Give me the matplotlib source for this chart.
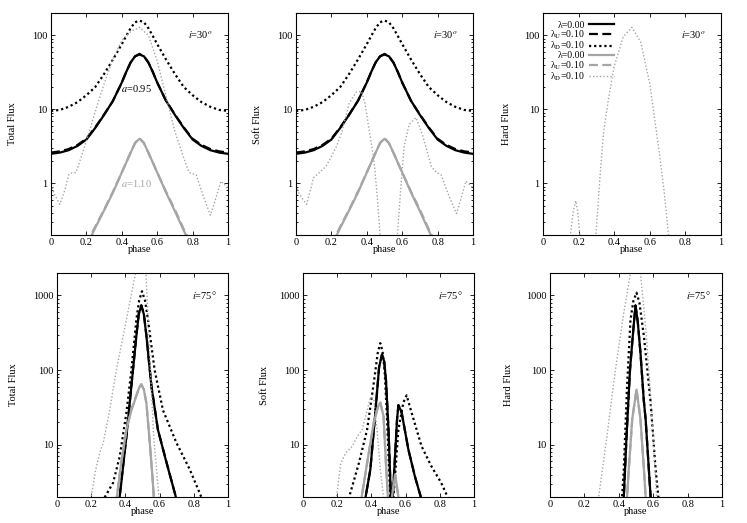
import matplotlib
matplotlib.use("Agg")
import matplotlib.pyplot as plt
from matplotlib.ticker import FixedLocator, LogLocator, NullFormatter, FuncFormatter
from matplotlib.lines import Line2D

plt.rcParams["font.family"] = "serif"
plt.rcParams["font.serif"] = ["Liberation Serif", "DejaVu Serif"]
plt.rcParams["mathtext.fontset"] = "stix"
plt.rcParams["font.size"] = 7.5

# ---- i=30 deg, total & soft flux (black curves a=0.95 identical in both) ----
x30 = [0, 0.05, 0.1, 0.15, 0.2, 0.25, 0.3, 0.35, 0.4, 0.425, 0.45, 0.475, 0.5,
       0.525, 0.55, 0.575, 0.6, 0.65, 0.7, 0.75, 0.8, 0.85, 0.9, 0.95, 1.0]
tot30_solid = [2.5, 2.6, 2.8, 3.2, 3.9, 5.6, 8.4, 13, 23, 32, 43, 52, 55,
               52, 43, 32, 23, 13, 8.4, 5.6, 3.9, 3.2, 2.8, 2.6, 2.5]
tot30_dash = [2.6, 2.7, 2.9, 3.3, 4.0, 5.7, 8.5, 13, 23, 32, 43, 52, 56,
              52, 43, 32, 23, 13, 8.5, 5.7, 4.0, 3.3, 2.9, 2.7, 2.6]
tot30_dot = [9.5, 9.8, 10.8, 12.5, 15.5, 20, 30, 47, 76, 98, 125, 150, 158,
             150, 125, 98, 76, 47, 30, 20, 15.5, 12.5, 10.8, 9.8, 9.5]

# a=1.10 (grey) curves
x30g = [0.2, 0.25, 0.3, 0.35, 0.4, 0.45, 0.475, 0.5, 0.525, 0.55, 0.6, 0.65, 0.7, 0.75, 0.8]
tot30g_solid = [0.14, 0.25, 0.43, 0.75, 1.4, 2.6, 3.5, 4.0, 3.5, 2.6, 1.4, 0.75, 0.42, 0.23, 0.13]
tot30g_dash = [0.15, 0.26, 0.44, 0.77, 1.4, 2.6, 3.5, 4.1, 3.5, 2.6, 1.4, 0.77, 0.44, 0.24, 0.14]

x30g_dot_tot = [0, 0.023, 0.05, 0.08, 0.1, 0.12, 0.14, 0.16, 0.2, 0.25, 0.3, 0.35, 0.4,
                0.45, 0.5, 0.55, 0.6, 0.65, 0.7, 0.75, 0.78, 0.82, 0.86, 0.9, 0.93, 0.96, 1.0]
tot30g_dot = [0.97, 0.68, 0.52, 0.83, 1.3, 1.39, 1.39, 1.9, 3.7, 9.3, 22, 48, 85,
              112, 128, 100, 45, 15, 5.0, 2.2, 1.4, 1.3, 0.68, 0.37, 0.61, 1.07, 0.87]

x30g_dot_soft = [0, 0.02, 0.06, 0.1, 0.13, 0.17, 0.2, 0.23, 0.26, 0.3, 0.34, 0.37, 0.39,
                 0.41, 0.44, 0.46, 0.475, 0.49, 0.52, 0.56, 0.573, 0.593, 0.611, 0.64,
                 0.678, 0.716, 0.764, 0.793, 0.82, 0.87, 0.907, 0.93, 0.96, 1.0]
soft30g_dot = [0.92, 0.7, 0.52, 1.2, 1.38, 1.7, 2.3, 3.2, 5.0, 12, 17, 17.5, 12,
               5.9, 2.1, 0.62, 0.2, 0.1, 0.05, 0.1, 0.2, 0.93, 3.2, 6.3,
               7.7, 4.4, 1.7, 1.4, 1.3, 0.62, 0.39, 0.6, 1.07, 0.87]

x30g_dot_hard = [0.14, 0.154, 0.17, 0.184, 0.195, 0.207, 0.22, 0.25, 0.28, 0.297, 0.32,
                 0.34, 0.37, 0.4, 0.45, 0.5, 0.55, 0.6, 0.65, 0.68, 0.705, 0.72]
hard30g_dot = [0.08, 0.2, 0.42, 0.58, 0.42, 0.2, 0.08, 0.05, 0.08, 0.2, 1.2,
               4.8, 15, 38, 95, 128, 80, 22, 3.0, 0.8, 0.2, 0.08]

# ---- i=75 deg, total flux ----
x75_tot_solid = [0.36, 0.376, 0.406, 0.435, 0.464, 0.478, 0.493, 0.508, 0.523, 0.552, 0.59, 0.64, 0.688, 0.70]
tot75_solid = [1.5, 3.1, 13, 61, 285, 560, 735, 560, 285, 61, 16, 5.8, 2.3, 1.8]
tot75_dash = [1.5, 3.2, 13, 62, 290, 565, 740, 565, 290, 62, 16, 5.9, 2.3, 1.8]
x75_tot_dot = [0.27, 0.28, 0.328, 0.367, 0.406, 0.435, 0.464, 0.48, 0.497, 0.515,
               0.532, 0.571, 0.62, 0.698, 0.776, 0.844, 0.86]
tot75_dot = [1.7, 2.0, 3.1, 7, 27, 100, 475, 850, 1140, 850, 475, 100, 29, 10.7, 4.7, 2.0, 1.7]
x75_tot_g = [0.34, 0.35, 0.376, 0.406, 0.435, 0.464, 0.48, 0.493, 0.508, 0.523, 0.542, 0.558, 0.566, 0.575]
tot75g_solid = [1.6, 2.0, 5.8, 16, 29, 45, 58, 65, 55, 36, 11, 3.8, 2.0, 1.5]
tot75g_dash = [1.6, 2.0, 5.9, 16, 30, 46, 58, 64, 55, 36, 11, 3.8, 2.0, 1.5]
x75_tot_gdot = [0.19, 0.2, 0.225, 0.25, 0.27, 0.308, 0.347, 0.406, 0.444, 0.47, 0.49,
                0.519, 0.542, 0.565, 0.596, 0.61]
tot75g_dot = [1.5, 2.0, 4.5, 7.8, 10.5, 29, 100, 475, 1330, 2600, 3500,
              2200, 170, 13, 2.0, 1.5]

# ---- i=75 deg, soft flux ----
x75_soft_solid = [0.355, 0.366, 0.394, 0.423, 0.445, 0.462, 0.475, 0.485, 0.50, 0.514,
                  0.518, 0.525, 0.539, 0.55, 0.558, 0.577, 0.616, 0.654, 0.689, 0.70]
soft75_solid = [1.5, 2.0, 4.7, 27, 110, 162, 130, 75, 16, 2.0,
                1.0, 2.0, 7.6, 22, 34, 27, 8.7, 3.8, 2.0, 1.6]
soft75_dash = soft75_solid
x75_soft_dot = [0.26, 0.27, 0.327, 0.375, 0.414, 0.437, 0.452, 0.465, 0.477, 0.49, 0.51,
                0.52, 0.529, 0.558, 0.587, 0.606, 0.635, 0.693, 0.75, 0.808, 0.846, 0.86]
soft75_dot = [1.6, 2.0, 5.7, 16, 68, 170, 230, 180, 100, 27, 2.0,
              1.0, 2.0, 16, 37, 46, 27, 9.6, 5.2, 3.1, 2.0, 1.6]
x75_soft_g = [0.335, 0.343, 0.375, 0.414, 0.44, 0.452, 0.471, 0.485, 0.496, 0.505,
              0.52, 0.539, 0.558, 0.57]
soft75g_solid = [1.5, 2.0, 5.7, 20, 33, 37, 24, 5.7, 2.0, 1.0, 2.0, 4.0, 2.0, 1.5]
soft75g_dash = soft75g_solid
x75_soft_gdot = [0.185, 0.196, 0.221, 0.25, 0.289, 0.318, 0.346, 0.366, 0.394, 0.414,
                 0.433, 0.452, 0.471, 0.48]
soft75g_dot = [1.5, 2.0, 5.7, 7.8, 9.6, 13, 16, 24, 43, 41, 16, 4.7, 2.0, 1.5]

# ---- i=75 deg, hard flux ----
x75_hard_solid = [0.42, 0.429, 0.445, 0.465, 0.482, 0.497, 0.51, 0.526, 0.545, 0.556, 0.585, 0.595]
hard75_solid = [1.5, 2.0, 13, 100, 300, 735, 450, 170, 40, 22, 2.0, 1.5]
hard75_dash = hard75_solid
x75_hard_dot = [0.41, 0.419, 0.429, 0.448, 0.468, 0.485, 0.503, 0.52, 0.546, 0.585, 0.614, 0.63, 0.64]
hard75_dot = [1.5, 2.0, 4.7, 61, 475, 850, 1090, 800, 285, 37, 4.7, 2.0, 1.5]
x75_hard_g = [0.44, 0.448, 0.458, 0.478, 0.503, 0.526, 0.546, 0.556, 0.565]
hard75g_solid = [1.5, 2.0, 4.7, 22, 55, 22, 4.7, 2.0, 1.5]
hard75g_dash = hard75g_solid
x75_hard_gdot = [0.27, 0.283, 0.331, 0.38, 0.429, 0.468, 0.5, 0.526, 0.56, 0.59, 0.62, 0.63]
hard75g_dot = [1.5, 2.0, 13, 100, 585, 2000, 3000, 2000, 300, 30, 2.0, 1.5]

xticks = [0, 0.2, 0.4, 0.6, 0.8, 1]
GREY = "#a5a5a5"
st = {
    "bs": dict(color="k", lw=1.6),
    "bd": dict(color="k", lw=1.6, dashes=(4, 2)),
    "bo": dict(color="k", lw=1.6, dashes=(1, 1.3)),
    "gs": dict(color=GREY, lw=1.6),
    "gd": dict(color=GREY, lw=1.6, dashes=(4, 2)),
    "go": dict(color=GREY, lw=1.0, dashes=(1, 1.5)),
}

fig = plt.figure(figsize=(7.47, 5.23), dpi=100)


def make_ax(l, r, t, b):
    return fig.add_axes([l / 747, 1 - b / 523, (r - l) / 747, (b - t) / 523])


def style(ax, ylim, ylab, labx, incl):
    ax.set_yscale("log")
    ax.set_xlim(0, 1)
    ax.set_ylim(*ylim)
    ax.xaxis.set_major_locator(FixedLocator(xticks))
    ax.xaxis.set_major_formatter(FuncFormatter(lambda v, p: "%g" % v))
    ax.yaxis.set_major_locator(LogLocator(base=10))
    ax.yaxis.set_minor_locator(LogLocator(base=10, subs=range(2, 10)))
    ax.yaxis.set_major_formatter(FuncFormatter(lambda v, p: "%g" % v))
    ax.yaxis.set_minor_formatter(NullFormatter())
    ax.tick_params(which="both", direction="in", top=True, right=True, width=0.6, pad=2.5)
    ax.tick_params(which="major", length=3)
    ax.tick_params(which="minor", length=1.5)
    for s in ax.spines.values():
        s.set_linewidth(0.8)
    ax.set_xlabel("phase", labelpad=-1.5)
    ax.set_ylabel(ylab)
    ax.yaxis.set_label_coords(labx, 0.5)
    tx = 0.915 if incl == 30 else 0.935
    lab = r"$i$=30$^o$" if incl == 30 else r"$i$=75°"
    ax.text(tx, 0.90, lab, transform=ax.transAxes, ha="right", va="center")


# top row
ax1 = make_ax(51, 228, 13, 235)
ax1.plot(x30, tot30_solid, **st["bs"])
ax1.plot(x30, tot30_dash, **st["bd"])
ax1.plot(x30, tot30_dot, **st["bo"])
ax1.plot(x30g, tot30g_solid, **st["gs"])
ax1.plot(x30g, tot30g_dash, **st["gd"])
ax1.plot(x30g_dot_tot, tot30g_dot, **st["go"])
style(ax1, (0.2, 200), "Total Flux", -0.19, 30)
ax1.text(0.395, 19, r"$a$=0.95", ha="left", va="center")
ax1.text(0.395, 1.0, r"$a$=1.10", ha="left", va="center", color=GREY)

ax2 = make_ax(296, 473, 13, 235)
ax2.plot(x30, tot30_solid, **st["bs"])
ax2.plot(x30, tot30_dash, **st["bd"])
ax2.plot(x30, tot30_dot, **st["bo"])
ax2.plot(x30g, tot30g_solid, **st["gs"])
ax2.plot(x30g, tot30g_dash, **st["gd"])
ax2.plot(x30g_dot_soft, soft30g_dot, **st["go"])
style(ax2, (0.2, 200), "Soft Flux", -0.19, 30)

ax3 = make_ax(543, 721, 13, 235)
ax3.plot(x30g_dot_hard, hard30g_dot, **st["go"])
style(ax3, (0.2, 200), "Hard Flux", -0.18, 30)
handles = [Line2D([], [], **st[k]) for k in ["bs", "bd", "bo", "gs", "gd", "go"]]
labels = ["λ=0.00", r"λ$_{\rm U}$=0.10", r"λ$_{\rm D}$=0.10"] * 2
ax3.legend(handles, labels, loc="upper left", bbox_to_anchor=(0.04, 0.965),
           frameon=False, markerfirst=False, handlelength=2.5, handletextpad=0.5,
           labelspacing=-0.12, borderpad=0, borderaxespad=0, fontsize=7)

# bottom row
ax4 = make_ax(57, 228, 273, 497)
ax4.plot(x75_tot_solid, tot75_solid, **st["bs"])
ax4.plot(x75_tot_solid, tot75_dash, **st["bd"])
ax4.plot(x75_tot_dot, tot75_dot, **st["bo"])
ax4.plot(x75_tot_g, tot75g_solid, **st["gs"])
ax4.plot(x75_tot_g, tot75g_dash, **st["gd"])
ax4.plot(x75_tot_gdot, tot75g_dot, **st["go"])
style(ax4, (2, 2000), "Total Flux", -0.23, 75)

ax5 = make_ax(303, 474, 273, 497)
ax5.plot(x75_soft_solid, soft75_solid, **st["bs"])
ax5.plot(x75_soft_solid, soft75_dash, **st["bd"])
ax5.plot(x75_soft_dot, soft75_dot, **st["bo"])
ax5.plot(x75_soft_g, soft75g_solid, **st["gs"])
ax5.plot(x75_soft_g, soft75g_dash, **st["gd"])
ax5.plot(x75_soft_gdot, soft75g_dot, **st["go"])
style(ax5, (2, 2000), "Soft Flux", -0.20, 75)

ax6 = make_ax(550, 722, 273, 497)
ax6.plot(x75_hard_solid, hard75_solid, **st["bs"])
ax6.plot(x75_hard_solid, hard75_dash, **st["bd"])
ax6.plot(x75_hard_dot, hard75_dot, **st["bo"])
ax6.plot(x75_hard_g, hard75g_solid, **st["gs"])
ax6.plot(x75_hard_g, hard75g_dash, **st["gd"])
ax6.plot(x75_hard_gdot, hard75g_dot, **st["go"])
style(ax6, (2, 2000), "Hard Flux", -0.215, 75)

fig.savefig("out.png", dpi=100)
